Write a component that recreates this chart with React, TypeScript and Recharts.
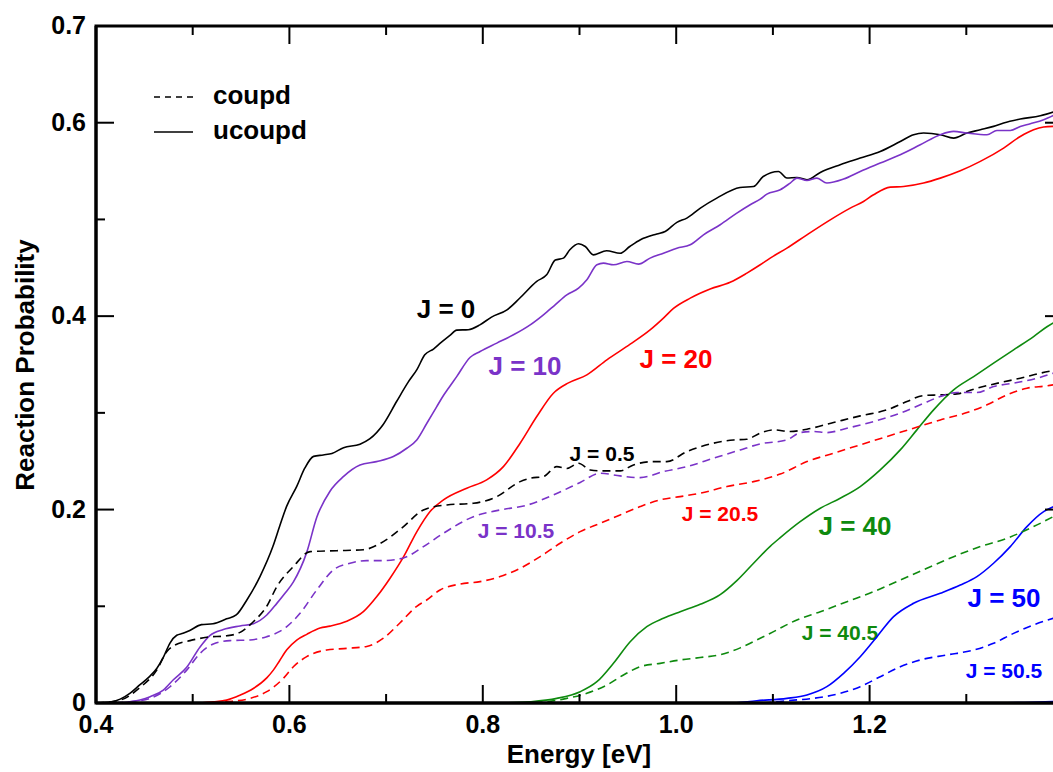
import { Line, LineChart, XAxis, YAxis } from "recharts"

// reaction probability vs collision energy, [E (eV), P] pairs
const j0 = [
  [0.4, 0.0], [0.415, 0.001], [0.425, 0.004], [0.435, 0.01], [0.4455, 0.019], [0.455, 0.027],
  [0.463, 0.036], [0.47, 0.048], [0.4765, 0.062], [0.4835, 0.07], [0.49, 0.072], [0.497, 0.075],
  [0.509, 0.081], [0.521, 0.082], [0.535, 0.087], [0.545, 0.091], [0.556, 0.1065], [0.5697, 0.131],
  [0.583, 0.162], [0.59, 0.183], [0.597, 0.203], [0.6076, 0.224], [0.616, 0.243], [0.625, 0.255],
  [0.635, 0.2565], [0.644, 0.258], [0.656, 0.264], [0.673, 0.2676], [0.683, 0.273], [0.697, 0.288],
  [0.711, 0.312], [0.723, 0.332], [0.732, 0.345], [0.74, 0.36], [0.749, 0.366], [0.756, 0.372],
  [0.766, 0.38], [0.773, 0.3855], [0.785, 0.386], [0.797, 0.391], [0.809, 0.399], [0.825, 0.4065],
  [0.8386, 0.419], [0.8558, 0.436], [0.866, 0.4427], [0.875, 0.458], [0.8834, 0.46], [0.89, 0.4686],
  [0.899, 0.4748], [0.906, 0.472], [0.9144, 0.4634], [0.928, 0.4676], [0.942, 0.465], [0.952, 0.472],
  [0.963, 0.479], [0.98, 0.485], [0.9886, 0.4875], [1.0007, 0.497], [1.011, 0.5014], [1.025, 0.5117],
  [1.042, 0.522], [1.066, 0.533], [1.08, 0.534], [1.09, 0.5444], [1.1058, 0.5496], [1.1145, 0.5428],
  [1.1248, 0.5434], [1.1352, 0.541], [1.149, 0.5486], [1.1696, 0.5565], [1.1903, 0.5634], [1.211, 0.5703],
  [1.2317, 0.5806], [1.2455, 0.5876], [1.2558, 0.5893], [1.2731, 0.5876], [1.2869, 0.5841], [1.3007, 0.5893],
  [1.3145, 0.5927], [1.3282, 0.5962], [1.3386, 0.5997], [1.3558, 0.6038], [1.3765, 0.6072], [1.39, 0.611],
]

const j10 = [
  [0.425, 0.0], [0.4455, 0.003], [0.456, 0.0065], [0.4696, 0.0134], [0.48, 0.024], [0.4938, 0.037],
  [0.5076, 0.058], [0.518, 0.07], [0.5317, 0.076], [0.549, 0.0797], [0.5627, 0.082], [0.5766, 0.091],
  [0.587, 0.103], [0.595, 0.113], [0.604, 0.125], [0.618, 0.156], [0.6283, 0.192], [0.642, 0.219],
  [0.6558, 0.234], [0.673, 0.246], [0.69, 0.2496], [0.7075, 0.2548], [0.7214, 0.2634], [0.7317, 0.272],
  [0.742, 0.289], [0.7524, 0.3065], [0.7593, 0.318], [0.7645, 0.3255], [0.773, 0.3375], [0.787, 0.3575],
  [0.7972, 0.3634], [0.8145, 0.3721], [0.8317, 0.3807], [0.849, 0.391], [0.8627, 0.4014], [0.8748, 0.4117],
  [0.8869, 0.422], [0.899, 0.4289], [0.9076, 0.4376], [0.918, 0.4531], [0.9248, 0.4548], [0.9351, 0.4531],
  [0.949, 0.4565], [0.961, 0.4538], [0.973, 0.46], [0.9868, 0.4651], [1.0007, 0.4703], [1.0145, 0.4738],
  [1.0282, 0.4841], [1.0455, 0.4945], [1.0627, 0.5065], [1.0765, 0.5152], [1.0869, 0.521], [1.0938, 0.5262],
  [1.1076, 0.5307], [1.1179, 0.5376], [1.1248, 0.5427], [1.1352, 0.5403], [1.1455, 0.5427], [1.1558, 0.5376],
  [1.1731, 0.5417], [1.1903, 0.5496], [1.211, 0.5583], [1.2317, 0.5669], [1.2524, 0.5772], [1.2731, 0.5876],
  [1.2869, 0.591], [1.3007, 0.5893], [1.3214, 0.5876], [1.3317, 0.592], [1.3455, 0.592], [1.3558, 0.5962],
  [1.3662, 0.599], [1.38, 0.6031], [1.39, 0.6075],
]

const j20 = [
  [0.505, 0.0], [0.5213, 0.0013], [0.535, 0.003], [0.5487, 0.008], [0.5627, 0.015], [0.5766, 0.026],
  [0.5834, 0.034], [0.59, 0.044], [0.5973, 0.055], [0.6076, 0.065], [0.618, 0.071], [0.6317, 0.0775],
  [0.642, 0.0795], [0.6593, 0.0845], [0.6765, 0.0944], [0.6904, 0.11], [0.7041, 0.129], [0.718, 0.151],
  [0.7317, 0.177], [0.7455, 0.198], [0.7593, 0.21], [0.7834, 0.2221], [0.804, 0.2307], [0.8213, 0.2444],
  [0.8386, 0.2686], [0.8558, 0.2962], [0.873, 0.3203], [0.8886, 0.331], [0.9076, 0.3393], [0.9283, 0.3548],
  [0.9524, 0.371], [0.973, 0.3858], [0.9868, 0.398], [0.9972, 0.408], [1.0145, 0.4186], [1.0351, 0.428],
  [1.0558, 0.435], [1.0731, 0.4445], [1.0869, 0.4531], [1.0972, 0.46], [1.1145, 0.4703], [1.1352, 0.4841],
  [1.1593, 0.4996], [1.18, 0.5117], [1.1937, 0.5186], [1.2041, 0.5255], [1.2214, 0.5334], [1.2351, 0.534],
  [1.2558, 0.5376], [1.2731, 0.5427], [1.2938, 0.5503], [1.3145, 0.56], [1.3386, 0.5738], [1.3558, 0.5858],
  [1.3696, 0.5927], [1.38, 0.5955], [1.39, 0.5962],
]

const j40 = [
  [0.82, 0.0], [0.849, 0.0013], [0.8765, 0.0048], [0.9007, 0.0117], [0.918, 0.022], [0.9351, 0.0411],
  [0.9524, 0.0634], [0.9696, 0.0789], [0.9868, 0.0876], [1.0041, 0.0944], [1.0248, 0.102], [1.0455, 0.112],
  [1.0627, 0.1265], [1.08, 0.1445], [1.0972, 0.162], [1.1076, 0.171], [1.1282, 0.1875], [1.149, 0.2014],
  [1.1696, 0.2117], [1.1903, 0.2238], [1.211, 0.241], [1.2317, 0.2617], [1.2489, 0.2824], [1.2662, 0.3031],
  [1.2869, 0.3238], [1.3076, 0.3375], [1.3282, 0.3514], [1.3489, 0.3652], [1.3696, 0.3789], [1.3834, 0.389],
  [1.39, 0.393],
]

const j50 = [
  [1.06, 0.0], [1.0834, 0.0024], [1.1145, 0.0048], [1.1352, 0.0083], [1.1558, 0.0169], [1.1731, 0.0307],
  [1.1903, 0.0479], [1.2076, 0.0686], [1.2248, 0.0893], [1.2455, 0.1031], [1.2731, 0.1134], [1.2938, 0.122],
  [1.311, 0.1307], [1.3282, 0.1445], [1.3455, 0.1617], [1.3627, 0.1824], [1.38, 0.1979], [1.39, 0.203],
]

const j60 = [[1.33, 0.0], [1.36, 0.0005], [1.39, 0.0015]]

const j05 = [
  [0.4, 0.0], [0.4248, 0.003], [0.4455, 0.016], [0.4628, 0.034], [0.4731, 0.053], [0.4817, 0.06],
  [0.4972, 0.0645], [0.5145, 0.068], [0.5352, 0.0695], [0.549, 0.073], [0.5627, 0.084], [0.5766, 0.1],
  [0.587, 0.1203], [0.604, 0.141], [0.6214, 0.1565], [0.649, 0.1575], [0.6765, 0.1585], [0.6972, 0.1669],
  [0.718, 0.1824], [0.7386, 0.1996], [0.7628, 0.2048], [0.7903, 0.2065], [0.8145, 0.2134], [0.8386, 0.2289],
  [0.849, 0.2324], [0.8627, 0.2341], [0.8765, 0.2444], [0.8869, 0.2425], [0.899, 0.2479], [0.911, 0.241],
  [0.9214, 0.24], [0.942, 0.24], [0.9558, 0.2462], [0.9765, 0.2496], [0.9903, 0.2496], [1.011, 0.26],
  [1.0386, 0.2686], [1.0593, 0.272], [1.0731, 0.2727], [1.0869, 0.279], [1.1007, 0.2824], [1.1179, 0.2807],
  [1.1352, 0.2831], [1.1627, 0.29], [1.1903, 0.2969], [1.2179, 0.3031], [1.2386, 0.3117], [1.2558, 0.3179],
  [1.2731, 0.3186], [1.2903, 0.3196], [1.311, 0.3255], [1.3351, 0.3313], [1.3558, 0.3358], [1.3765, 0.341],
  [1.39, 0.3437],
]

const j105 = [
  [0.42, 0.0], [0.4352, 0.0013], [0.4559, 0.0048], [0.4766, 0.0168], [0.4938, 0.034], [0.5076, 0.0513],
  [0.5213, 0.061], [0.5386, 0.0645], [0.5593, 0.0652], [0.5766, 0.0686], [0.59, 0.074], [0.5973, 0.079],
  [0.611, 0.0927], [0.6283, 0.1169], [0.6455, 0.1376], [0.6627, 0.1445], [0.68, 0.1472], [0.6972, 0.1472],
  [0.718, 0.15], [0.7386, 0.1617], [0.7593, 0.1755], [0.7903, 0.1927], [0.8179, 0.1996], [0.8455, 0.2045],
  [0.873, 0.2152], [0.9007, 0.228], [0.9214, 0.2376], [0.942, 0.2348], [0.9627, 0.233], [0.9869, 0.2393],
  [1.011, 0.2444], [1.0386, 0.2531], [1.0662, 0.2617], [1.0869, 0.2679], [1.1145, 0.272], [1.1283, 0.2796],
  [1.142, 0.2807], [1.1558, 0.2796], [1.1765, 0.2841], [1.2041, 0.291], [1.2317, 0.2997], [1.2524, 0.3083],
  [1.2731, 0.3169], [1.2903, 0.321], [1.311, 0.321], [1.3282, 0.3272], [1.3524, 0.3313], [1.3731, 0.3358],
  [1.39, 0.341],
]

const j205 = [
  [0.52, 0.0], [0.5352, 0.0013], [0.5593, 0.0048], [0.5766, 0.0117], [0.5938, 0.0255], [0.6041, 0.0375],
  [0.6179, 0.0479], [0.6386, 0.0548], [0.6593, 0.0565], [0.68, 0.0585], [0.6972, 0.067], [0.7145, 0.083],
  [0.7317, 0.1], [0.742, 0.1065], [0.7558, 0.1169], [0.7765, 0.123], [0.7972, 0.1255], [0.8179, 0.1307],
  [0.8386, 0.1393], [0.8593, 0.1513], [0.88, 0.1652], [0.9007, 0.1772], [0.9214, 0.1858], [0.942, 0.1945],
  [0.9627, 0.2031], [0.9834, 0.21], [1.0041, 0.2134], [1.0248, 0.2169], [1.0524, 0.2238], [1.08, 0.2289],
  [1.1076, 0.2367], [1.1352, 0.2496], [1.1627, 0.2583], [1.1903, 0.2669], [1.2179, 0.2755], [1.2455, 0.2841],
  [1.2731, 0.2927], [1.3007, 0.3003], [1.3214, 0.3083], [1.342, 0.3186], [1.3627, 0.3255], [1.3834, 0.3279],
  [1.39, 0.329],
]

const j405 = [
  [0.84, 0.0], [0.8662, 0.0013], [0.8869, 0.0048], [0.9076, 0.01], [0.9283, 0.0186], [0.9455, 0.029],
  [0.9627, 0.0375], [0.9834, 0.041], [1.0041, 0.0445], [1.0248, 0.047], [1.0455, 0.05], [1.0662, 0.057],
  [1.0869, 0.0669], [1.1007, 0.0738], [1.1248, 0.0859], [1.149, 0.0944], [1.1765, 0.1048], [1.2041, 0.1151],
  [1.2317, 0.1272], [1.2593, 0.1393], [1.2869, 0.1513], [1.3145, 0.1617], [1.342, 0.1703], [1.3696, 0.1824],
  [1.39, 0.1927],
]

const j505 = [
  [1.09, 0.0], [1.1145, 0.0024], [1.142, 0.0048], [1.1696, 0.01], [1.1903, 0.0169], [1.211, 0.0272],
  [1.2317, 0.0375], [1.2524, 0.0445], [1.28, 0.0497], [1.3076, 0.0548], [1.3282, 0.0617], [1.3489, 0.072],
  [1.3696, 0.0807], [1.39, 0.0876],
]

const X_MIN = 0.4
const X_MAX = 1.4
const Y_MAX = 0.7
const xTicks = [0.4, 0.5, 0.6, 0.7, 0.8, 0.9, 1.0, 1.1, 1.2, 1.3]
const xMajor = [0.4, 0.6, 0.8, 1.0, 1.2]
const yTicks = [0, 0.1, 0.2, 0.3, 0.4, 0.5, 0.6, 0.7]
const yLabelled = [0, 0.2, 0.4, 0.6, 0.7]

const BLACK = "#000000"
const PURPLE = "#7a33c8"
const RED = "#ff0000"
const GREEN = "#0e8a0e"
const BLUE = "#0000ff"
const DASH = "8 5"
const FONT = "'Liberation Sans', Arial, Helvetica, sans-serif"

const series = [
  { key: "J0", rows: j0, color: BLACK, dashed: false },
  { key: "J10", rows: j10, color: PURPLE, dashed: false },
  { key: "J20", rows: j20, color: RED, dashed: false },
  { key: "J40", rows: j40, color: GREEN, dashed: false },
  { key: "J50", rows: j50, color: BLUE, dashed: false },
  { key: "J60", rows: j60, color: BLUE, dashed: false },
  { key: "J0.5", rows: j05, color: BLACK, dashed: true },
  { key: "J10.5", rows: j105, color: PURPLE, dashed: true },
  { key: "J20.5", rows: j205, color: RED, dashed: true },
  { key: "J40.5", rows: j405, color: GREEN, dashed: true },
  { key: "J50.5", rows: j505, color: BLUE, dashed: true },
]

// curve annotations: text, centre x, baseline y, size, colour
const curveLabels: [string, number, number, number, string][] = [
  ["J = 0", 446, 318, 26, BLACK],
  ["J = 10", 525, 375, 26, PURPLE],
  ["J = 20", 676, 368, 26, RED],
  ["J = 0.5", 602, 461, 21, BLACK],
  ["J = 10.5", 516, 538, 21, PURPLE],
  ["J = 20.5", 720, 521, 21, RED],
  ["J = 40", 855, 535, 26, GREEN],
  ["J = 40.5", 840, 640, 21, GREEN],
  ["J = 50", 1004, 607, 26, BLUE],
  ["J = 50.5", 1004, 678, 21, BLUE],
]

const near = (list: number[], v: number) => list.some((m) => Math.abs(m - v) < 1e-6)
const fmt = (v: number) => (v === 0 ? "0" : v.toFixed(1))
const toPoints = (rows: number[][]) => rows.map(([e, p]) => ({ e, p }))

// plot box: margins + axis sizes below give left 96, top 26, right 1063, bottom 703
const CHART_W = 1070
const CHART_H = 772
const M_TOP = 26
const M_RIGHT = 7
const Y_AXIS_W = 96
const X_AXIS_H = 69
const L = Y_AXIS_W
const T = M_TOP
const R = CHART_W - M_RIGHT
const B = CHART_H - X_AXIS_H
const px = (e: number) => L + ((e - X_MIN) / (X_MAX - X_MIN)) * (R - L)
const py = (p: number) => B - (p / Y_MAX) * (B - T)

const MAJOR = 18
const MINOR = 9
const yMajor = (v: number) => Math.round(v * 10) % 2 === 0

function BottomLabel({ x, y, payload }: any) {
  if (!near(xMajor, payload.value)) return <g />
  return (
    <text x={x} y={y + 30} textAnchor="middle" fontFamily={FONT} fontWeight="bold" fontSize={25} fill="#000">
      {fmt(payload.value)}
    </text>
  )
}

function LeftLabel({ x, y, payload }: any) {
  if (!near(yLabelled, payload.value)) return <g />
  return (
    <text x={x - 10} y={y + 8} textAnchor="end" fontFamily={FONT} fontWeight="bold" fontSize={25} fill="#000">
      {fmt(payload.value)}
    </text>
  )
}

// box frame with inward ticks on all four sides, laid over the chart
function Frame() {
  return (
    <svg
      width={CHART_W}
      height={CHART_H}
      style={{ position: "absolute", left: 0, top: 0, pointerEvents: "none" }}
    >
      <g stroke="#000" strokeWidth={2}>
        {xTicks.map((t) => {
          const len = near(xMajor, t) ? MAJOR : MINOR
          return (
            <g key={`x${t}`}>
              <line x1={px(t)} x2={px(t)} y1={B} y2={B - len} />
              <line x1={px(t)} x2={px(t)} y1={T} y2={T + len} />
            </g>
          )
        })}
        {yTicks.map((t) => {
          const len = yMajor(t) ? MAJOR : MINOR
          return (
            <g key={`y${t}`}>
              <line x1={L} x2={L + len} y1={py(t)} y2={py(t)} />
              <line x1={R} x2={R - len} y1={py(t)} y2={py(t)} />
            </g>
          )
        })}
        <rect x={L} y={T} width={R - L} height={B - T} fill="none" strokeWidth={3} />
      </g>
    </svg>
  )
}

const frame = { stroke: "#000", strokeWidth: 3 }

export default function App() {
  return (
    <div
      style={{
        position: "absolute",
        left: 0,
        top: 0,
        width: 1053,
        height: 772,
        overflow: "hidden",
        background: "#fff",
      }}
    >
      <LineChart width={CHART_W} height={CHART_H} margin={{ top: M_TOP, right: M_RIGHT, left: 0, bottom: 0 }}>
        <XAxis
          dataKey="e"
          type="number"
          domain={[X_MIN, X_MAX]}
          ticks={xTicks}
          interval={0}
          allowDataOverflow
          height={X_AXIS_H}
          tickSize={0}
          tickMargin={0}
          tickLine={false}
          axisLine={frame}
          tick={(p: any) => <BottomLabel {...p} />}
        />
        <YAxis
          type="number"
          domain={[0, Y_MAX]}
          ticks={yTicks}
          interval={0}
          allowDataOverflow
          width={Y_AXIS_W}
          tickSize={0}
          tickMargin={0}
          tickLine={false}
          axisLine={frame}
          tick={(p: any) => <LeftLabel {...p} />}
        />

        {series.map((s) => (
          <Line
            key={s.key}
            data={toPoints(s.rows)}
            dataKey="p"
            type="monotone"
            stroke={s.color}
            strokeWidth={1.6}
            strokeDasharray={s.dashed ? DASH : undefined}
            dot={false}
            activeDot={false}
            isAnimationActive={false}
          />
        ))}

        {/* legend */}
        <line x1={154} x2={193} y1={97} y2={97} stroke="#000" strokeWidth={1.6} strokeDasharray="6 5" />
        <line x1={154} x2={193} y1={132} y2={132} stroke="#000" strokeWidth={1.6} />
        <text x={213} y={104} fontFamily={FONT} fontWeight="bold" fontSize={26} fill="#000">
          coupd
        </text>
        <text x={213} y={139} fontFamily={FONT} fontWeight="bold" fontSize={26} fill="#000">
          ucoupd
        </text>

        {curveLabels.map(([t, x, y, size, color]) => (
          <text key={t} x={x} y={y} textAnchor="middle" fontFamily={FONT} fontWeight="bold" fontSize={size} fill={color}>
            {t}
          </text>
        ))}

        <text x={579} y={763} textAnchor="middle" fontFamily={FONT} fontWeight="bold" fontSize={26} fill="#000">
          Energy [eV]
        </text>
        <text
          transform="translate(34, 365) rotate(-90)"
          textAnchor="middle"
          fontFamily={FONT}
          fontWeight="bold"
          fontSize={26}
          fill="#000"
        >
          Reaction Probability
        </text>
      </LineChart>
      <Frame />
    </div>
  )
}
